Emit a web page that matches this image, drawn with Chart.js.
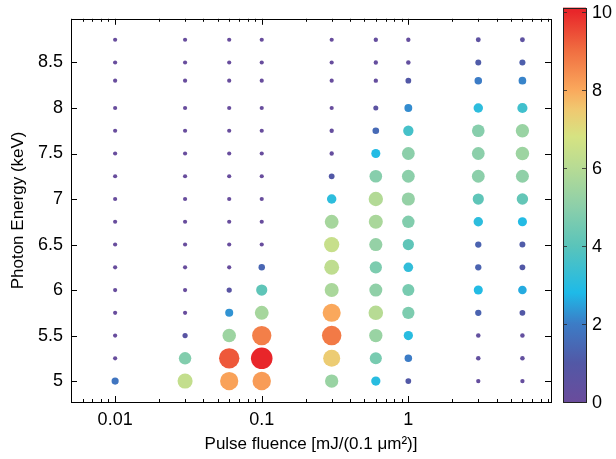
<!DOCTYPE html>
<html>
<head>
<meta charset="utf-8">
<script src="https://cdn.jsdelivr.net/npm/chart.js@4.4.1/dist/chart.umd.min.js"></script>
<style>
  html, body { margin: 0; padding: 0; background: #fff; }
</style>
</head>
<body>
<canvas id="myChart" width="616" height="459"></canvas>
<script>
const fluence = [0.01, 0.03, 0.06, 0.1, 0.3, 0.6, 1, 3, 6]
const energy = [5, 5.25, 5.5, 5.75, 6, 6.25, 6.5, 6.75, 7, 7.25, 7.5, 7.75, 8, 8.3, 8.5, 8.75]

// colour value for each fluence column, from 5 keV up to 8.75 keV
const col0_01 = [1.8, 0.1, 0.1, 0.1, 0.1, 0.1, 0.1, 0.1, 0.1, 0.1, 0.1, 0.1, 0.1, 0.1, 0.1, 0.1]
const col0_03 = [6.3, 4.8, 0.7, 0.1, 0.1, 0.1, 0.1, 0.1, 0.1, 0.1, 0.1, 0.1, 0.1, 0.1, 0.1, 0.1]
const col0_06 = [8.1, 9.3, 5.4, 2.3, 0.7, 0.1, 0.1, 0.1, 0.1, 0.1, 0.1, 0.1, 0.1, 0.1, 0.1, 0.1]
const col0_1 = [8.2, 10, 8.7, 5.6, 4.1, 1.4, 0.1, 0.1, 0.1, 0.1, 0.1, 0.1, 0.1, 0.1, 0.1, 0.1]
const col0_3 = [5.3, 7.4, 8.8, 8.0, 5.7, 6.2, 6.4, 5.6, 3.1, 1.0, 0.2, 0.2, 0.1, 0.1, 0.1, 0.1]
const col0_6 = [3.0, 4.6, 5.3, 6.0, 5.1, 4.7, 5.2, 5.7, 5.9, 4.9, 2.9, 1.5, 0.6, 0.2, 0.2, 0.2]
const col1 = [1.0, 2.0, 3.0, 4.7, 4.6, 3.2, 4.1, 4.8, 5.2, 5.0, 5.0, 3.6, 2.2, 1.0, 0.3, 0.2]
const col3 = [0.2, 0.3, 0.3, 1.3, 2.9, 1.3, 1.3, 3.1, 4.1, 5.0, 5.0, 4.9, 3.1, 2.0, 1.1, 0.5]
const col6 = [0.2, 0.3, 0.3, 1.0, 2.6, 1.0, 1.1, 2.9, 4.2, 5.1, 5.4, 5.3, 3.5, 2.1, 1.2, 0.5]
const columns = [col0_01, col0_03, col0_06, col0_1, col0_3, col0_6, col1, col3, col6]

const xTicks = [0.01, 0.1, 1]
const yTicks = [5, 5.5, 6, 6.5, 7, 7.5, 8, 8.5]
const cbarTicks = [0, 2, 4, 6, 8, 10]

const FAMILY = "'Liberation Sans', Arial, Helvetica, sans-serif"
const TICK_FONT = { family: FAMILY, size: 18 }
const TITLE_FONT = { family: FAMILY, size: 17 }

// colormap stops (value, rgb)
const cmap = [
  [0, [106, 76, 156]],
  [1, [82, 88, 166]],
  [2, [60, 124, 198]],
  [2.8, [30, 186, 232]],
  [4, [90, 196, 186]],
  [5, [140, 207, 170]],
  [6, [183, 219, 148]],
  [6.8, [214, 227, 130]],
  [7.5, [240, 200, 112]],
  [8, [250, 168, 92]],
  [9, [240, 110, 65]],
  [10, [232, 38, 42]]
]

function colorFor(v) {
  if (v <= cmap[0][0]) return 'rgb(' + cmap[0][1].join(',') + ')'
  for (let i = 1; i < cmap.length; i++) {
    if (v <= cmap[i][0]) {
      const a = cmap[i - 1], b = cmap[i]
      const t = (v - a[0]) / (b[0] - a[0])
      const c = a[1].map((x, k) => Math.round(x + (b[1][k] - x) * t))
      return 'rgb(' + c.join(',') + ')'
    }
  }
  return 'rgb(' + cmap[cmap.length - 1][1].join(',') + ')'
}

const points = []
fluence.forEach((f, i) => {
  energy.forEach((e, j) => {
    points.push({ x: f, y: e, v: columns[i][j] })
  })
})

// frame, inward ticks and colour bar
const framePlugin = {
  id: 'frame',
  afterDraw(chart) {
    const ctx = chart.ctx
    const a = chart.chartArea
    const xs = chart.scales.x, ys = chart.scales.y
    ctx.save()
    ctx.strokeStyle = '#000'
    ctx.lineWidth = 1
    ctx.strokeRect(Math.round(a.left) + 0.5, Math.round(a.top) + 0.5, Math.round(a.right - a.left), Math.round(a.bottom - a.top))

    ctx.beginPath()
    yTicks.forEach(v => {
      const y = Math.round(ys.getPixelForValue(v)) + 0.5
      ctx.moveTo(a.left, y); ctx.lineTo(a.left + 6, y)
      ctx.moveTo(a.right, y); ctx.lineTo(a.right - 6, y)
    })
    xTicks.forEach(v => {
      const x = Math.round(xs.getPixelForValue(v)) + 0.5
      ctx.moveTo(x, a.bottom); ctx.lineTo(x, a.bottom - 6)
      ctx.moveTo(x, a.top); ctx.lineTo(x, a.top + 6)
    })
    for (let d = 0.001; d < 10; d *= 10) {
      for (let k = 2; k <= 9; k++) {
        const v = k * d
        if (v < xs.min || v > xs.max) continue
        const x = Math.round(xs.getPixelForValue(v)) + 0.5
        ctx.moveTo(x, a.bottom); ctx.lineTo(x, a.bottom - 3)
        ctx.moveTo(x, a.top); ctx.lineTo(x, a.top + 3)
      }
    }
    ctx.stroke()

    // colour bar
    const cx0 = 563, cx1 = 586, cyBottom = 402, perUnit = 39.05
    const cyTop = cyBottom - 10.1 * perUnit
    const grad = ctx.createLinearGradient(0, cyBottom, 0, cyBottom - 10 * perUnit)
    cmap.forEach(s => grad.addColorStop(s[0] / 10, colorFor(s[0])))
    ctx.fillStyle = colorFor(10)
    ctx.fillRect(cx0, cyTop, cx1 - cx0, cyBottom - cyTop)
    ctx.fillStyle = grad
    ctx.fillRect(cx0, cyBottom - 10 * perUnit, cx1 - cx0, 10 * perUnit)
    ctx.strokeStyle = '#222'
    ctx.strokeRect(cx0 + 0.5, Math.round(cyTop) + 0.5, cx1 - cx0, Math.round(cyBottom - cyTop))
    ctx.fillStyle = '#000'
    ctx.font = TICK_FONT.size + 'px ' + FAMILY
    ctx.textAlign = 'left'
    ctx.textBaseline = 'middle'
    ctx.strokeStyle = 'rgba(40,40,40,0.8)'
    ctx.beginPath()
    cbarTicks.forEach(v => {
      const y = Math.round(cyBottom - v * perUnit) + 0.5
      ctx.moveTo(cx0, y); ctx.lineTo(cx0 + 4, y)
      ctx.moveTo(cx1, y); ctx.lineTo(cx1 - 4, y)
      ctx.fillText(String(v), 592, y + 1)
    })
    ctx.stroke()
    ctx.restore()
  }
}

const ctx = document.getElementById('myChart')
const chart = new Chart(ctx, {
  type: 'scatter',
  data: {
    datasets: [{
      data: points,
      pointRadius: c => 2 + 0.88 * c.raw.v,
      pointBackgroundColor: c => colorFor(c.raw.v),
      pointBorderWidth: 0,
      pointBorderColor: 'rgba(0,0,0,0)'
    }]
  },
  options: {
    responsive: false,
    animation: false,
    devicePixelRatio: 1,
    layout: { padding: { top: 8, right: 65, left: 0, bottom: 0 } },
    plugins: { legend: { display: false }, tooltip: { enabled: false } },
    scales: {
      x: {
        type: 'logarithmic',
        min: 0.005,
        max: 9.4,
        grid: { display: false, drawTicks: false },
        border: { display: false },
        afterBuildTicks: s => { s.ticks = xTicks.map(v => ({ value: v })) },
        afterFit: s => { s.height = 57 },
        ticks: { font: TICK_FONT, color: '#000', padding: 7, maxRotation: 0, autoSkip: false, callback: v => String(v) },
        title: { display: true, text: 'Pulse fluence [mJ/(0.1 μm²)]', font: TITLE_FONT, color: '#000', padding: { top: 0, bottom: 4 } }
      },
      y: {
        min: 4.77,
        max: 8.98,
        grid: { display: false, drawTicks: false },
        border: { display: false },
        afterBuildTicks: s => { s.ticks = yTicks.map(v => ({ value: v })) },
        afterFit: s => { s.width = 71 },
        ticks: { font: TICK_FONT, color: '#000', padding: 8, callback: v => String(v) },
        title: { display: true, text: 'Photon Energy (keV)', font: TITLE_FONT, color: '#000', padding: { top: 8, bottom: 0 } }
      }
    }
  },
  plugins: [framePlugin]
})
</script>
</body>
</html>
